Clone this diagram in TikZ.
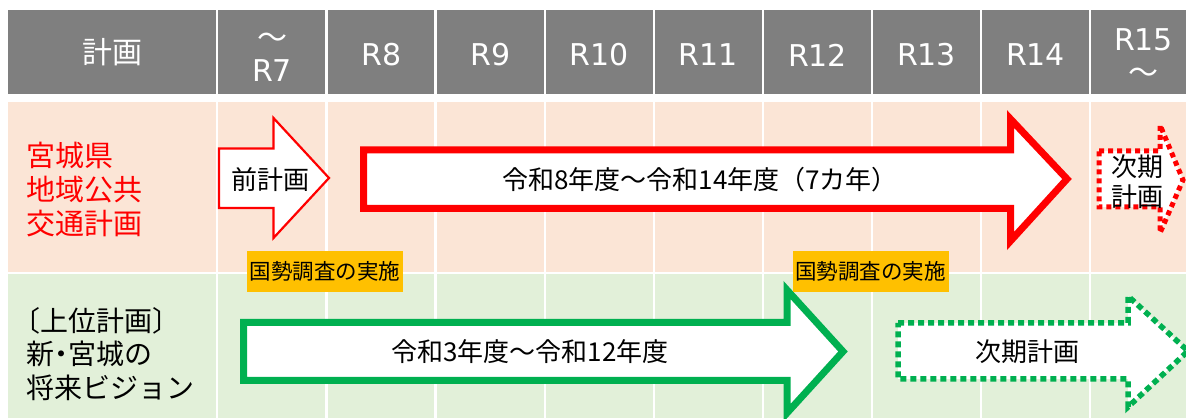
\documentclass[tikz,border=0pt]{standalone}
\usepackage{fontspec}
\setmainfont{Noto Sans CJK JP}
\newfontfamily\latfont{DejaVu Sans}
\definecolor{hdrgray}{HTML}{7F7F7F}
\definecolor{rowpink}{HTML}{FBE5D6}
\definecolor{rowgreen}{HTML}{E2F0D9}
\definecolor{lblyellow}{HTML}{FFC000}
\definecolor{pred}{HTML}{FF0000}
\definecolor{pgreen}{HTML}{00B050}
\begin{document}
\begin{tikzpicture}[x=1pt,y=-1pt,
  hdrtxt/.style={text=white,inner sep=0pt,align=center,font=\fontsize{30}{33}\selectfont},
  bodytxt/.style={text=black,inner sep=0pt,font=\fontsize{26}{30}\selectfont},
  rowlabel/.style={inner sep=0pt,align=left,anchor=west},
  yellowlbl/.style={fill=lblyellow,text=black,inner sep=0pt,minimum width=156pt,minimum height=41pt,font=\fontsize{21.5}{24}\selectfont},
  thinred/.style={draw=pred,line width=2.2pt,fill=white,miter limit=10},
  thickred/.style={draw=pred,line width=7pt,fill=white,miter limit=10},
  thickgreen/.style={draw=pgreen,line width=7pt,fill=white,miter limit=10},
  dotred/.style={draw=pred,line width=5pt,fill=white,dash pattern=on 5pt off 4pt},
  dotgreen/.style={draw=pgreen,line width=5.5pt,fill=white,dash pattern=on 6pt off 4pt}
]
\useasboundingbox (0,0) rectangle (1186,419);
\clip (0,0) rectangle (1186,419);
\fill[white] (0,0) rectangle (1186,419);
% bands
\fill[hdrgray] (8,10) rectangle (1200,94);
\fill[rowpink] (8,102) rectangle (1200,272);
\fill[rowgreen] (8,274) rectangle (1200,418);
% white column separators
\foreach \xx in {217,326.5,435.5,545,654,763,872,981,1090}
  \draw[white,line width=2.5pt] (\xx,5) -- (\xx,419);
% header texts
\node[hdrtxt] (h0) at (112,52) {計画};
\node[hdrtxt] (h1) at (272,57) {～\\{\latfont R7}};
\node[hdrtxt] (h2) at (381.5,55) {\latfont R8};
\node[hdrtxt] (h3) at (490.5,55) {\latfont R9};
\node[hdrtxt] (h4) at (599.5,55) {\latfont R10};
\node[hdrtxt] (h5) at (708.5,55) {\latfont R11};
\node[hdrtxt] (h6) at (817.5,55) {\latfont R12};
\node[hdrtxt] (h7) at (926.5,55) {\latfont R13};
\node[hdrtxt] (h8) at (1035.5,55) {\latfont R14};
\node[hdrtxt] (h9) at (1143.5,56) {{\latfont R15}\\～};
% row labels
\node[rowlabel,text=pred,font=\fontsize{29}{34}\selectfont] (r1) at (26,190) {宮城県\\地域公共\\交通計画};
\node[rowlabel,text=black,font=\fontsize{28}{33.5}\selectfont] (r2) at (26,354) {\hspace*{-0.5em}〔上位計画〕\\新\kern-0.25em・\kern-0.25em宮城の\\将来ビジョン};
% previous plan arrow
\draw[thinred] (219,148.5) -- (273.5,148.5) -- (273.5,118) -- (329,178) -- (273.5,238) -- (273.5,208) -- (219,208) -- cycle;
\node[bodytxt] (prev) at (270,180) {前計画};
% main red arrow
\draw[thickred] (363.5,150) -- (1010.5,150) -- (1010.5,119) -- (1067,179) -- (1010.5,241) -- (1010.5,208.5) -- (363.5,208.5) -- cycle;
\node[bodytxt] (main) at (700,180) {令和8年度～令和14年度（7カ年）};
% next plan red dotted arrow
\draw[dotred] (1099,151) -- (1160,151) -- (1160,125) -- (1183,180) -- (1160,233) -- (1160,207) -- (1099,207) -- cycle;
\node[bodytxt,align=center] (next1) at (1137,182) {次期\\計画};
% green arrow
\draw[thickgreen] (243.5,322.5) -- (787,322.5) -- (787,290) -- (843,351.5) -- (787,413) -- (787,380.5) -- (243.5,380.5) -- cycle;
\node[bodytxt] (vision) at (530,352) {令和3年度～令和12年度};
% green dotted arrow
\draw[dotgreen] (898,323) -- (1128,323) -- (1128,296) -- (1188,351) -- (1128,407) -- (1128,379) -- (898,379) -- cycle;
\node[bodytxt] (next2) at (1027,352) {次期計画};
% census labels
\node[yellowlbl] (c1) at (325,271.5) {国勢調査の実施};
\node[yellowlbl] (c2) at (870.5,271.5) {国勢調査の実施};
\end{tikzpicture}
\end{document}
